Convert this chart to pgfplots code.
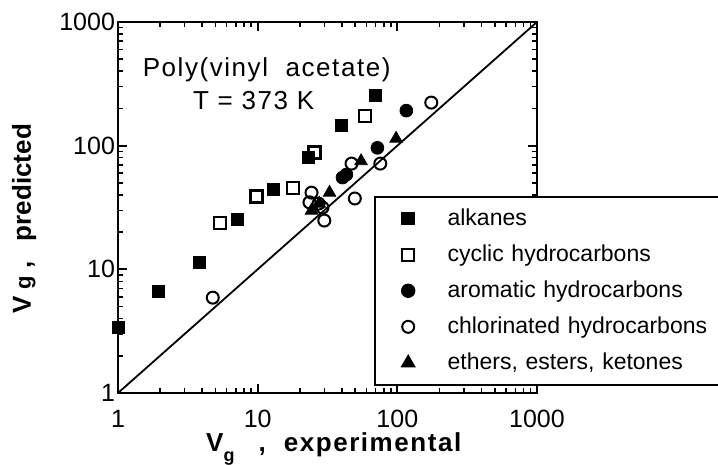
\documentclass[border=0pt]{standalone}
\usepackage{fontspec}
\setmainfont{Liberation Sans}
\usepackage{pgfplots}
\pgfplotsset{compat=1.18}
\begin{document}
\begin{tikzpicture}
\path[use as bounding box] (0,0) rectangle (359pt,232.5pt);
\begin{axis}[
  at={(59pt,36pt)}, anchor=south west,
  scale only axis, width=209.5pt, height=185.5pt,
  xmode=log, ymode=log,
  xmin=1, xmax=1000, ymin=1, ymax=1000,
  axis line style={line width=1.1pt},
  xtick={1,10,100,1000}, ytick={1,10,100,1000},
  minor xtick={2,3,4,5,6,7,8,9,20,30,40,50,60,70,80,90,200,300,400,500,600,700,800,900},
  minor ytick={2,3,4,5,6,7,8,9,20,30,40,50,60,70,80,90,200,300,400,500,600,700,800,900},
  xtick align=inside, ytick align=inside,
  xtick pos=both, ytick pos=both,
  major tick length=4.5pt, minor tick length=2.5pt,
  major tick style={draw=black, line width=1pt},
  minor tick style={draw=black, line width=0.8pt},
  xticklabels={1,10,100,1000}, yticklabels={1,10,100,1000},
  tick label style={font=\fontsize{12.5}{14}\selectfont},
  /pgf/number format/assume math mode=true,
  xticklabel style={yshift=-5pt},
  yticklabel style={xshift=2pt},
  every axis y label/.style={at={(axis description cs:-0.224,0.47)}, rotate=90, anchor=center, inner sep=0pt},
  every axis x label/.style={at={(axis description cs:0.515,-0.152)}, anchor=center, inner sep=0pt},
  xlabel={\fontsize{13}{15}\selectfont\bfseries\addfontfeature{LetterSpace=6}V\raisebox{-5pt}{\fontsize{9}{9}\selectfont g}\hspace{12pt},\hspace{9pt}experimental},
  ylabel={\fontsize{13}{15}\selectfont\bfseries V\hspace{3pt}{\fontsize{11}{11}\selectfont g}\hspace{4pt},\hspace{10pt}predicted},
  legend cell align=left,
  legend style={at={(0.611,0.531)}, anchor=north west, draw=black, line width=0.8pt,
    font=\fontsize{11.5}{13}\selectfont, inner xsep=13.5pt, inner ysep=4pt, row sep=4.2pt,
    nodes={text width=165pt},
    /tikz/every odd column/.append style={column sep=14.5pt}},
  clip=false,
]
\addplot[only marks, mark=square*, mark size=3pt, black] coordinates {
(1,3.4) (1.96,6.6) (3.85,11.4) (7.2,25.3) (13,44) (23,80) (40,145) (70,253)};
\addlegendentry{alkanes}
\addplot[only marks, mark=square, mark size=3pt, black, line width=1.1pt, mark options={fill=white}] coordinates {
(5.35,23.6) (9.8,38.8) (17.8,45.7) (25.5,88) (59,174)};
\addlegendentry{cyclic hydrocarbons}
\addplot[only marks, mark=*, mark size=3.2pt, black] coordinates {
(116,192) (72,96) (40.5,55.2) (43.2,58.4)};
\addlegendentry{aromatic hydrocarbons}
\addplot[only marks, mark=o, mark size=3pt, black, line width=1pt, mark options={fill=white}] coordinates {
(4.77,5.9) (175,223) (75.5,71.6) (47,71.6) (49.6,37.4) (24.3,41.7) (23.5,34.8) (27.3,34) (29.1,31.6) (30,24.8)};
\addlegendentry{chlorinated hydrocarbons}
\addplot[only marks, mark=triangle*, mark size=3.6pt, black] coordinates {
(98,114) (55,75) (32.7,41.7) (24.3,29.9) (27.6,34)};
\addlegendentry{ethers, esters, ketones}
\addplot[black, line width=0.9pt, forget plot] coordinates {(1,1) (1000,1000)};
\node[font=\fontsize{13}{15}\selectfont\addfontfeature{LetterSpace=6}] at (axis cs:11.6,410) {Poly(vinyl\ \ acetate)};
\node[font=\fontsize{13}{15}\selectfont\addfontfeature{LetterSpace=6}] at (axis cs:9.36,232) {T = 373 K};
\end{axis}
\end{tikzpicture}
\end{document}
